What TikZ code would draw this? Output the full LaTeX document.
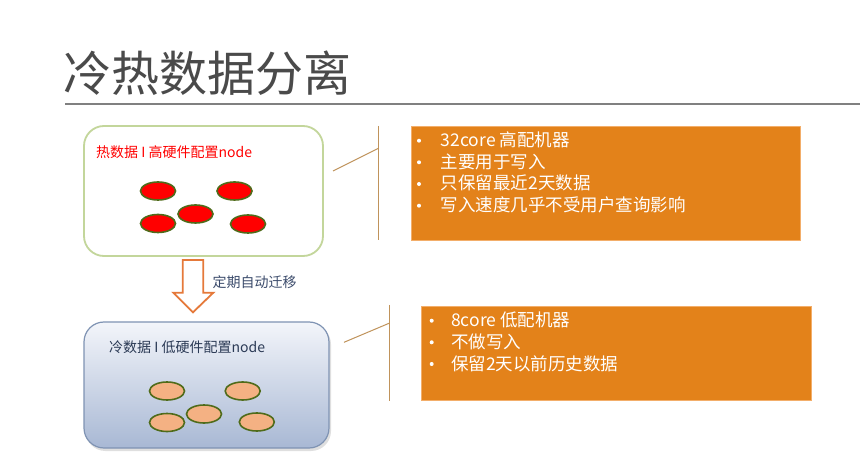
\documentclass[tikz,border=0pt]{standalone}
\usepackage{fontspec}
\setmainfont{Noto Sans CJK SC}
\usetikzlibrary{shapes.geometric}
\definecolor{titlegray}{HTML}{4A4A4A}
\definecolor{rulegray}{HTML}{808080}
\definecolor{hotborder}{HTML}{C3D69B}
\definecolor{olive}{HTML}{4F6B1A}
\definecolor{salmon}{HTML}{F4B183}
\definecolor{tan}{HTML}{C0935B}
\definecolor{orangefill}{HTML}{E3821A}
\definecolor{orangeborder}{HTML}{F3AE6A}
\definecolor{arroworange}{HTML}{E5793A}
\definecolor{arrowtext}{HTML}{3B4B6B}
\definecolor{coldborder}{HTML}{7F93B3}
\definecolor{coldtop}{HTML}{F3F5FA}
\definecolor{coldbottom}{HTML}{A8B8D4}
\definecolor{coldtext}{HTML}{2B3A55}
\tikzset{
  hotbox/.style={draw=hotborder, line width=1.8pt, fill=white, rounded corners=20pt, minimum width=239pt, minimum height=130pt, inner sep=0pt},
  coldbox/.style={draw=coldborder, line width=1.2pt, rounded corners=20pt, top color=coldtop, bottom color=coldbottom, minimum width=245pt, minimum height=126pt, inner sep=0pt},
  hotnode/.style={ellipse, draw=olive, line width=1.6pt, fill=red, minimum width=35pt, minimum height=18pt, inner sep=0pt},
  coldnode/.style={ellipse, draw=olive, line width=1.6pt, fill=salmon, minimum width=35pt, minimum height=18pt, inner sep=0pt},
  infobox/.style={draw=orangeborder, line width=0.8pt, fill=orangefill, inner sep=0pt, anchor=north west},
  bullettext/.style={anchor=base west, inner sep=0pt, text=white, font=\fontsize{17.5}{21}\selectfont},
  bulletdot/.style={circle, fill=white, draw=none, inner sep=0pt, minimum size=4pt},
  link/.style={draw=tan, line width=1pt},
  boxlabel/.style={anchor=base west, inner sep=0pt, font=\fontsize{14}{16}\selectfont},
}
\begin{document}
\begin{tikzpicture}[x=1pt,y=-1pt]
\useasboundingbox (0,0) rectangle (868,465);
\fill[white] (0,0) rectangle (868,465);

% title
\node[anchor=base west, inner sep=0pt, text=titlegray, font=\fontsize{48}{58}\selectfont] (title) at (63,92) {冷热数据分离};
\coordinate (ruleL) at (65,104);
\coordinate (ruleR) at (860,104);
\draw[rulegray, line width=1.3pt] (ruleL) -- (ruleR);

% hot box
\node[hotbox] (hot) at (203.5,191) {};
\node[boxlabel, text=red] (hotlabel) at (96,157.8) {热数据 I 高硬件配置node};
\node[hotnode] (h1) at (158,191) {};
\node[hotnode] (h2) at (234.5,191) {};
\node[hotnode] (h3) at (158,223.5) {};
\node[hotnode] (h4) at (195.5,214) {};
\node[hotnode] (h5) at (248,224) {};

% cold box
\fill[gray, opacity=0.25, rounded corners=20pt] (85.5,324.5) rectangle (331,451);
\node[coldbox] (cold) at (206.5,385) {};
\node[boxlabel, text=coldtext] (coldlabel) at (109,352.8) {冷数据 I 低硬件配置node};
\node[coldnode] (c1) at (167,391) {};
\node[coldnode] (c2) at (242.7,391) {};
\node[coldnode] (c3) at (167,422.5) {};
\node[coldnode] (c4) at (204,414) {};
\node[coldnode] (c5) at (256.8,422) {};

% arrow between boxes
\draw[arroworange, line width=1.8pt, fill=white, line join=miter]
  (182.7,260) -- (203.3,260) -- (203.3,292.7) -- (213.3,292.7) -- (193,312.3)
  -- (173.3,292.7) -- (182.7,292.7) -- cycle;
\node[anchor=base west, inner sep=0pt, text=arrowtext, font=\fontsize{14}{16}\selectfont] (migrate) at (212.5,287.3) {定期自动迁移};

% hot info
\coordinate (hl1) at (333,171);
\coordinate (hl2) at (378.3,148.3);
\coordinate (hv1) at (378.3,126);
\coordinate (hv2) at (378.3,240);
\draw[link] (hl1) -- (hl2);
\draw[link] (hv1) -- (hv2);
\node[infobox, minimum width=389pt, minimum height=114pt] (hotinfo) at (410.7,126.3) {};
\foreach \y/\t [count=\i] in {146.7/32core 高配机器, 168.3/主要用于写入, 190/只保留最近2天数据, 211.7/写入速度几乎不受用户查询影响}{
  \node[bulletdot] (hb\i) at (419,\y-6) {};
  \node[bullettext] (ht\i) at (440.7,\y) {\t};
}

% cold info
\coordinate (cl1) at (344,342.3);
\coordinate (cl2) at (389,323.3);
\coordinate (cv1) at (389,305);
\coordinate (cv2) at (389,401);
\draw[link] (cl1) -- (cl2);
\draw[link] (cv1) -- (cv2);
\node[infobox, minimum width=389.7pt, minimum height=94.6pt] (coldinfo) at (421,305.7) {};
\foreach \y/\t [count=\i] in {326.7/8core 低配机器, 348.3/不做写入, 370/保留2天以前历史数据}{
  \node[bulletdot] (cb\i) at (431.7,\y-6) {};
  \node[bullettext] (ct\i) at (451,\y) {\t};
}
\end{tikzpicture}
\end{document}
